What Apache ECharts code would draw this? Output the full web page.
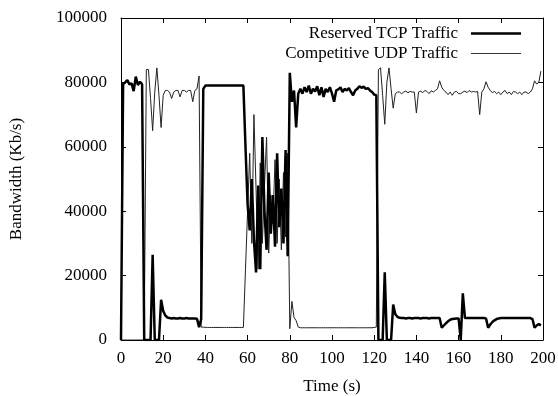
<!DOCTYPE html>
<html>
<head>
<meta charset="utf-8">
<script src="https://cdn.jsdelivr.net/npm/echarts@6/dist/echarts.min.js"></script>
<style>
  html, body { margin: 0; padding: 0; background: #fff; }
  #chart { width: 558px; height: 396px; }
</style>
</head>
<body>
<div id="chart"></div>
<script>
// one sample per second, t = 0 .. 199
const xTicks = [0, 20, 40, 60, 80, 100, 120, 140, 160, 180, 200];
const yTicks = [0, 20000, 40000, 60000, 80000, 100000];

const tcpTraffic = [
  0, 79500, 80000, 80700, 79400, 79700, 77300, 81800, 79200, 80200,
  79400, 0, 0, 0, 0, 26500, 0, 0, 0, 12500,
  9000, 7600, 7000, 6800, 6700, 6800, 6700, 6700, 6800, 6700,
  6700, 6800, 6700, 6700, 6700, 6700, 6600, 4000, 6500, 78000,
  79000, 79000, 79000, 79000, 79000, 79000, 79000, 79000, 79000, 79000,
  79000, 79000, 79000, 79000, 79000, 79000, 79000, 79000, 79000, 60000,
  42000, 34000, 50000, 31000, 21000, 48000, 22000, 63000, 40000, 28000,
  52000, 33000, 45000, 29000, 58000, 35000, 47000, 30000, 59000, 26000,
  83000, 74000, 77500, 66000, 76500, 78000, 76500, 78500, 77000, 79000,
  76500, 78000, 77200, 78800, 76000, 78500, 75500, 78000, 77000, 78500,
  76500, 74000, 77500, 77800, 78500, 77000, 78000, 77500, 78200, 77000,
  76000, 77500, 78000, 78800, 78300, 78700, 78000, 78200, 77500, 77000,
  76200, 76000, 0, 0, 0, 21000, 0, 0, 0, 11000,
  8000, 7200, 6900, 6800, 6800, 6700, 6800, 6800, 6700, 6800,
  6800, 6800, 6700, 6800, 6800, 6800, 6700, 6800, 6800, 6800,
  6800, 6800, 3800, 4500, 5200, 5800, 6300, 6500, 6600, 6700,
  6700, 0, 14500, 6800, 6800, 6800, 6800, 6800, 6800, 6800,
  6800, 6800, 6800, 6700, 3800, 4800, 5600, 6100, 6500, 6700,
  6800, 6800, 6800, 6800, 6800, 6800, 6800, 6800, 6800, 6800,
  6800, 6800, 6800, 6800, 6800, 6500, 3800, 4500, 5000, 4500
];

const udpTraffic = [
  0, 0, 0, 0, 0, 0, 0, 0, 0, 0,
  0, 0, 84000, 84000, 75000, 65000, 77000, 84500, 76000, 66000,
  76000, 77500, 77500, 77000, 75000, 77000, 77500, 77500, 75500, 77500,
  77500, 77000, 77500, 77500, 74000, 77500, 78000, 82000, 4000, 4000,
  3900, 3900, 3900, 3900, 3900, 3900, 3900, 3900, 3900, 3900,
  3900, 3900, 3900, 3900, 3900, 3900, 3900, 3900, 3900, 22000,
  40000, 58000, 30000, 70000, 47000, 22000, 55000, 30000, 48000, 63000,
  27000, 45000, 36000, 56000, 30000, 50000, 28000, 52000, 32000, 58000,
  3500, 12000, 7000, 6000, 4000, 3800, 3800, 3800, 3800, 3800,
  3800, 3800, 3800, 3800, 3800, 3800, 3800, 3800, 3800, 3800,
  3800, 3800, 3800, 3800, 3800, 3800, 3800, 3800, 3800, 3800,
  3800, 3800, 3800, 3800, 3800, 3800, 3800, 3800, 3800, 3800,
  3900, 4000, 84000, 84500, 76000, 67000, 80000, 84500, 78000, 72000,
  76500, 77000, 77000, 76500, 77000, 77300, 76800, 77200, 77000, 77000,
  70500, 77000, 77300, 76800, 77500, 77200, 76500, 77400, 77000, 77500,
  78000, 80500, 78500, 77500, 77000, 76200, 77000, 76000, 77000, 77200,
  76500, 76500, 77000, 77300, 76800, 77500, 77000, 77200, 77000, 77200,
  70000, 77000, 78000, 80200, 78500, 77500, 76800, 77200, 76500, 77000,
  76200, 77000, 77500, 76500, 77000, 76200, 77200, 77000, 76500, 77000,
  76200, 77000, 77000, 76500, 77000, 78000, 80500, 79500, 80000, 83500
];

const toPairs = (vals) => vals.map((v, i) => [i, v]);

const font = 'Liberation Serif, Times New Roman, serif';
const chart = echarts.init(document.getElementById('chart'), null, { renderer: 'canvas' });

const axisCommon = {
  type: 'value',
  axisLine: { show: true, onZero: false, lineStyle: { color: '#000', width: 1 } },
  axisTick: { show: true, inside: true, length: 5, lineStyle: { color: '#000' } },
  splitLine: { show: false }
};

const option = {
  animation: false,
  backgroundColor: '#fff',
  grid: { left: 121, right: 15, top: 18, bottom: 56, outerBoundsMode: 'none', containLabel: false },
  legend: {
    orient: 'vertical',
    right: 32,
    top: 20,
    align: 'right',
    itemWidth: 50,
    itemHeight: 19,
    itemGap: 3,
    textStyle: { fontFamily: font, fontSize: 17, color: '#000', padding: [0, 8, 0, 0] },
    data: [
      { name: 'Reserved TCP Traffic', icon: 'path://M0,0L50,0L50,2.5L0,2.5Z', itemStyle: { color: '#000' } },
      { name: 'Competitive UDP Traffic', icon: 'path://M0,0L50,0L50,1L0,1Z', itemStyle: { color: '#333' } }
    ]
  },
  xAxis: [
    Object.assign({}, axisCommon, {
      min: xTicks[0], max: xTicks[xTicks.length - 1], interval: 20,
      name: 'Time (s)',
      nameLocation: 'middle',
      nameGap: 38,
      nameTextStyle: { fontFamily: font, fontSize: 17, color: '#000' },
      axisLabel: { fontFamily: font, fontSize: 17, color: '#000', margin: 10 }
    }),
    Object.assign({}, axisCommon, {
      position: 'top', min: xTicks[0], max: xTicks[xTicks.length - 1], interval: 20,
      axisLabel: { show: false }
    })
  ],
  yAxis: [
    Object.assign({}, axisCommon, {
      min: yTicks[0], max: yTicks[yTicks.length - 1], interval: 20000,
      name: 'Bandwidth (Kb/s)',
      nameLocation: 'middle',
      nameGap: 96,
      nameTextStyle: { fontFamily: font, fontSize: 17, color: '#000' },
      axisLabel: { fontFamily: font, fontSize: 17, color: '#000', margin: 14, formatter: (v) => String(v) }
    }),
    Object.assign({}, axisCommon, {
      position: 'right', min: yTicks[0], max: yTicks[yTicks.length - 1], interval: 20000,
      axisLabel: { show: false }
    })
  ],
  series: [
    {
      name: 'Reserved TCP Traffic',
      type: 'line',
      data: toPairs(tcpTraffic),
      symbol: 'none',
      z: 3,
      lineStyle: { color: '#000', width: 2.5 },
      itemStyle: { color: '#000' }
    },
    {
      name: 'Competitive UDP Traffic',
      type: 'line',
      data: toPairs(udpTraffic),
      symbol: 'none',
      z: 2,
      lineStyle: { color: '#222', width: 1 },
      itemStyle: { color: '#222' }
    }
  ]
};

chart.setOption(option);
</script>
</body>
</html>
